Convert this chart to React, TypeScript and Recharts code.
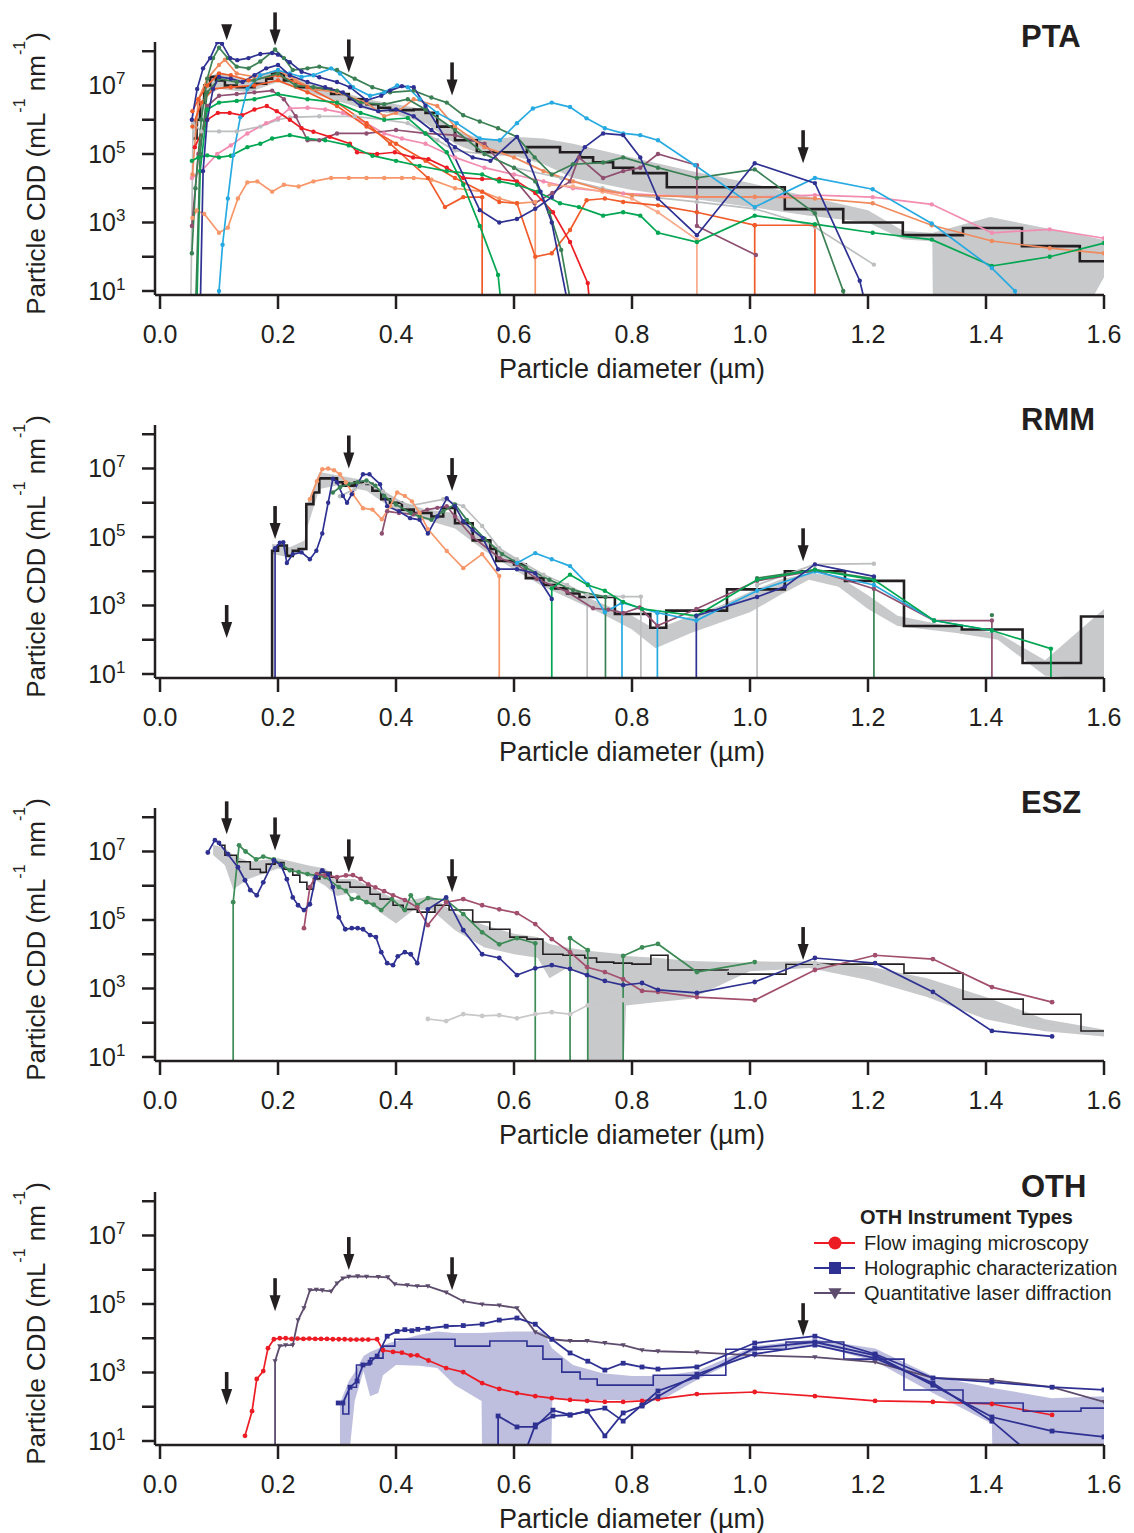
import React from 'react';
import { ComposedChart, Line, Area, XAxis, YAxis, ReferenceDot } from 'recharts';

type P = [number, number | null];
type B = [number, number, number];

const FONT = '"Liberation Sans", Arial, Helvetica, sans-serif';
const INK = '#231f20';
const NAVY = '#2e3192';
const DKGREEN = '#3b8054';
const SEAGREEN = '#3d8b57';
const GREEN = '#00a651';
const CYAN = '#27aae1';
const RED = '#ed1c24';
const ORANGE = '#f15a29';
const SALMON = '#f7976a';
const LSALMON = '#f9a98a';
const CORAL = '#f08a5d';
const PINK = '#f28cb1';
const MAUVE = '#8f4f70';
const ROSE = '#a24f6e';
const GRAY = '#bcbec0';
const BAND = '#c8c9cb';
const LAVENDER = '#b3b3d9';
const PURPLE = '#5d4c6d';

// axis ticks
const xTicks = [0, 0.2, 0.4, 0.6, 0.8, 1.0, 1.2, 1.4, 1.6];
const yTicks = [1e1, 1e2, 1e3, 1e4, 1e5, 1e6, 1e7, 1e8];
const yLabelled = [1, 3, 5, 7];
const Y_DOMAIN: [number, number] = [7.64, 1.86e8];
const X_DOMAIN: [number, number] = [-0.0085, 1.6];

// All series: [diameter (µm), log10 of CDD]
// ---------------- PTA ----------------
const ptaStep: P[] = [[0.055,5.45],[0.062,6.0],[0.068,6.5],[0.075,7.0],[0.085,7.25],[0.095,7.15],[0.11,7.0],[0.13,6.95],[0.16,7.05],[0.18,7.2],[0.19,7.35],[0.21,7.15],[0.23,6.95],[0.26,6.9],[0.29,6.75],[0.32,6.6],[0.35,6.45],[0.37,6.35],[0.39,6.28],[0.43,6.3],[0.45,6.2],[0.47,5.8],[0.5,5.4],[0.537,5.05],[0.622,5.2],[0.678,5.05],[0.712,4.9],[0.734,4.76],[0.768,4.6],[0.802,4.44],[0.859,4.03],[1.059,3.39],[1.158,3.0],[1.259,2.63],[1.361,2.84],[1.461,2.31],[1.559,1.87],[1.6,1.87]];
const ptaBand: B[] = [[0.055,5.3,5.6],[0.065,5.8,6.2],[0.08,6.7,7.2],[0.1,6.9,7.4],[0.15,6.8,7.15],[0.2,7.1,7.45],[0.25,6.8,7.1],[0.3,6.55,6.85],[0.35,6.3,6.6],[0.4,6.15,6.45],[0.45,5.9,6.3],[0.5,5.3,5.7],[0.55,4.95,5.4],[0.6,4.95,5.5],[0.65,4.7,5.45],[0.7,4.3,5.3],[0.8,3.95,4.9],[0.9,3.7,4.5],[1.0,3.45,4.15],[1.1,3.2,3.75],[1.2,3.0,3.36],[1.26,2.5,2.75],[1.309,2.45,2.7],[1.31,0.5,2.7],[1.407,0.5,3.16],[1.571,0.5,2.6],[1.6,1.4,2.49]];
const ptaNavy1: P[] = [[0.054,6.0],[0.063,6.9],[0.073,7.5],[0.085,7.8],[0.097,8.26],[0.105,8.22],[0.119,7.8],[0.131,7.74],[0.15,7.8],[0.17,7.92],[0.19,7.95],[0.2,7.9],[0.22,7.68],[0.24,7.4],[0.27,7.24],[0.3,7.1],[0.322,6.95],[0.35,6.57],[0.375,6.7],[0.39,6.85],[0.41,6.98],[0.43,6.95],[0.45,6.4],[0.486,5.4],[0.542,3.36],[0.575,3.0],[0.605,3.1],[0.636,3.4],[0.664,3.74],[0.72,5.2],[0.751,5.6],[0.785,5.55],[0.814,4.9],[0.844,3.7],[0.91,2.63],[1.008,4.73],[1.11,4.15],[1.186,1.3],[1.2,0.3]];
const ptaNavy2: P[] = [[0.068,0.3],[0.073,4.5],[0.08,6.0],[0.09,6.9],[0.1,7.25],[0.12,7.2],[0.14,7.1],[0.16,7.3],[0.18,7.5],[0.2,7.6],[0.22,7.3],[0.25,7.1],[0.28,6.95],[0.31,6.8],[0.34,6.4],[0.37,6.25],[0.4,6.3],[0.43,6.1],[0.46,5.7],[0.5,5.2],[0.53,4.9],[0.56,4.8],[0.605,5.5],[0.625,4.8],[0.645,3.9],[0.664,3.0],[0.695,0.3]];
const ptaDkGreen1: P[] = [[0.054,2.1],[0.06,4.0],[0.07,6.0],[0.08,7.2],[0.09,7.8],[0.1,8.1],[0.115,7.8],[0.13,7.55],[0.15,7.5],[0.17,7.7],[0.195,8.05],[0.21,7.8],[0.225,7.45],[0.25,7.5],[0.27,7.55],[0.3,7.45],[0.33,7.2],[0.36,6.95],[0.39,6.8],[0.43,6.85],[0.46,6.65],[0.486,6.5],[0.514,6.13],[0.542,5.95],[0.573,5.75],[0.605,5.5],[0.635,4.9],[0.664,4.4],[0.7,4.7],[0.751,4.75],[0.785,4.9],[0.844,4.6],[0.91,4.3],[1.008,4.55],[1.11,3.27],[1.158,1.0],[1.165,0.3]];
const ptaDkGreen2: P[] = [[0.06,0.3],[0.068,5.0],[0.08,6.8],[0.1,7.2],[0.13,7.1],[0.16,7.15],[0.2,7.35],[0.23,7.0],[0.26,6.95],[0.3,6.85],[0.34,6.5],[0.38,6.45],[0.42,6.6],[0.45,6.3],[0.5,5.7],[0.55,5.0],[0.6,4.6],[0.636,4.2],[0.66,3.3],[0.68,2.2],[0.7,0.3]];
const ptaGreenLow: P[] = [[0.054,4.8],[0.065,4.9],[0.08,4.96],[0.1,4.9],[0.12,4.95],[0.148,5.2],[0.17,5.3],[0.19,5.45],[0.22,5.55],[0.25,5.45],[0.28,5.4],[0.32,5.25],[0.36,4.95],[0.4,4.8],[0.44,4.65],[0.486,4.5],[0.546,4.4],[0.575,4.2],[0.605,4.1],[0.64,3.9],[0.678,3.56],[0.71,3.45],[0.751,3.2],[0.785,3.3],[0.814,3.2],[0.844,2.7],[0.91,2.43],[1.008,3.2],[1.11,2.95],[1.208,2.7],[1.308,2.5],[1.41,1.73],[1.508,2.0],[1.6,2.4]];
const ptaGreenHigh: P[] = [[0.062,0.3],[0.068,4.5],[0.08,6.3],[0.1,6.5],[0.13,6.55],[0.16,6.6],[0.2,6.75],[0.25,6.6],[0.3,6.5],[0.34,6.2],[0.38,6.0],[0.42,6.05],[0.45,5.6],[0.486,5.05],[0.514,4.1],[0.542,2.9],[0.573,1.47],[0.58,0.3]];
const ptaCyan: P[] = [[0.097,0.3],[0.1,1.0],[0.106,2.35],[0.115,3.7],[0.124,4.96],[0.136,6.07],[0.148,6.9],[0.17,7.3],[0.2,7.45],[0.22,7.35],[0.24,7.25],[0.26,7.3],[0.29,7.5],[0.305,7.35],[0.327,6.95],[0.356,6.7],[0.38,6.8],[0.402,7.0],[0.42,6.95],[0.44,6.6],[0.47,6.2],[0.503,5.9],[0.542,5.45],[0.576,5.4],[0.605,5.9],[0.632,6.33],[0.664,6.5],[0.695,6.37],[0.723,6.04],[0.754,5.75],[0.785,5.6],[0.814,5.55],[0.844,5.4],[0.907,4.67],[1.008,3.45],[1.11,4.3],[1.208,3.97],[1.308,2.97],[1.41,1.67],[1.449,1.0],[1.46,0.3]];
const ptaRed: P[] = [[0.059,5.2],[0.08,6.0],[0.098,6.2],[0.118,6.2],[0.139,6.13],[0.16,6.3],[0.181,6.4],[0.198,6.25],[0.22,6.0],[0.24,5.75],[0.26,5.65],[0.288,5.5],[0.322,5.3],[0.334,5.05],[0.368,5.0],[0.398,5.05],[0.429,4.9],[0.455,4.85],[0.486,4.6],[0.514,4.3],[0.546,4.27],[0.575,4.27],[0.605,4.2],[0.636,3.86],[0.666,3.3],[0.695,2.43],[0.725,1.23],[0.73,0.3]];
const ptaSalmonFlat: P[] = [[0.055,3.13],[0.062,3.35],[0.075,3.25],[0.1,2.7],[0.115,2.85],[0.132,3.7],[0.148,4.17],[0.165,4.2],[0.19,3.9],[0.21,4.1],[0.235,4.05],[0.26,4.2],[0.29,4.3],[0.32,4.3],[0.35,4.3],[0.38,4.3],[0.41,4.3],[0.43,4.3],[0.46,4.25],[0.5,4.0],[0.546,3.9],[0.575,3.7],[0.605,3.56],[0.636,3.6],[0.636,0.3]];
const ptaOrange1: P[] = [[0.055,6.25],[0.065,6.6],[0.08,7.0],[0.1,7.35],[0.12,7.3],[0.15,7.15],[0.2,7.3],[0.25,6.95],[0.3,6.5],[0.35,5.9],[0.39,5.3],[0.454,4.3],[0.483,3.45],[0.514,3.74],[0.546,3.74],[0.546,0.3]];
const ptaOrange2: P[] = [[0.055,5.8],[0.07,6.5],[0.09,6.9],[0.12,6.95],[0.16,7.0],[0.2,7.15],[0.25,6.8],[0.3,6.4],[0.35,5.8],[0.4,5.3],[0.45,4.8],[0.5,4.3],[0.546,3.9],[0.575,3.6],[0.605,3.56],[0.636,2.0],[0.664,2.1],[0.695,2.78],[0.723,3.65],[0.754,3.7],[0.785,3.6],[0.844,3.5],[0.91,3.3],[1.008,2.92],[1.008,0.3],[1.008,2.92],[1.11,2.92],[1.11,0.3]];
const ptaLightSalmon: P[] = [[0.66,4.1],[0.7,4.05],[0.75,3.9],[0.8,3.7],[0.844,3.3],[0.91,2.5],[0.91,0.3]];
const ptaCoral: P[] = [[0.055,4.4],[0.065,6.6],[0.08,7.2],[0.1,7.6],[0.11,7.75],[0.13,7.35],[0.16,7.25],[0.2,7.45],[0.23,7.15],[0.26,6.9],[0.3,6.8],[0.35,6.5],[0.38,6.1],[0.4,6.2],[0.43,6.6],[0.47,6.4],[0.5,5.8],[0.55,5.2],[0.6,4.9],[0.65,4.5],[0.7,4.2],[0.75,3.95],[0.8,3.8],[0.91,3.75],[1.008,3.75],[1.11,3.7],[1.208,3.56],[1.308,2.92],[1.41,2.46],[1.508,2.25],[1.6,2.1]];
const ptaPink: P[] = [[0.054,4.3],[0.07,4.5],[0.097,5.0],[0.12,5.25],[0.148,5.6],[0.18,5.9],[0.2,6.04],[0.22,6.33],[0.25,6.35],[0.28,6.3],[0.31,6.2],[0.35,5.9],[0.38,5.6],[0.41,5.45],[0.45,5.3],[0.5,4.9],[0.55,4.6],[0.6,4.4],[0.65,4.2],[0.7,4.0],[0.785,3.85],[0.91,3.74],[1.008,3.74],[1.11,3.8],[1.208,3.74],[1.308,3.53],[1.41,2.7],[1.508,2.8],[1.6,2.54]];
const ptaMauve: P[] = [[0.054,2.9],[0.065,5.0],[0.08,6.4],[0.1,6.7],[0.13,6.75],[0.16,6.8],[0.19,6.85],[0.21,6.6],[0.23,6.1],[0.25,5.4],[0.27,5.4],[0.3,5.6],[0.35,5.6],[0.4,5.7],[0.45,5.6],[0.5,5.55],[0.55,5.3],[0.635,3.56],[0.665,3.86],[0.695,4.2],[0.71,4.9],[0.751,4.3],[0.785,4.5],[0.814,4.6],[0.844,5.0],[0.91,4.67],[0.91,2.9],[1.01,2.05]];
const ptaGray: P[] = [[0.052,0.3],[0.056,5.9],[0.07,5.66],[0.1,5.66],[0.13,5.66],[0.17,5.8],[0.2,6.0],[0.22,6.07],[0.27,6.1],[0.33,6.1],[0.38,6.0],[0.42,5.9],[0.47,5.4],[0.5,5.1],[0.55,5.0],[0.6,4.6],[0.68,4.3],[0.75,4.0],[0.8,3.8],[0.91,3.6],[1.008,3.4],[1.11,2.87],[1.21,1.77]];
const ptaArrows: [number, number, boolean][] = [[0.113,8.32,true],[0.195,8.17,false],[0.32,7.38,false],[0.495,6.71,false],[1.09,4.73,false]];

// ---------------- RMM ----------------
const rmmStep: P[] = [[0.19,0.3],[0.19,4.6],[0.2,4.75],[0.215,4.45],[0.225,4.6],[0.235,4.65],[0.248,5.96],[0.26,6.3],[0.27,6.71],[0.3,6.6],[0.31,6.5],[0.33,6.6],[0.35,6.55],[0.36,6.35],[0.375,6.1],[0.39,6.0],[0.41,5.8],[0.43,5.7],[0.46,5.6],[0.48,5.85],[0.5,5.4],[0.53,4.9],[0.56,4.65],[0.57,4.3],[0.6,4.2],[0.62,3.8],[0.65,3.6],[0.67,3.5],[0.69,3.35],[0.711,3.25],[0.771,2.75],[0.831,2.35],[0.858,2.85],[0.961,3.47],[1.059,4.0],[1.161,3.72],[1.261,2.4],[1.359,2.3],[1.462,1.32],[1.561,2.68],[1.6,2.68]];
const rmmBand: B[] = [[0.19,4.5,4.8],[0.22,4.4,4.7],[0.245,4.6,4.9],[0.25,5.3,6.0],[0.27,6.4,6.9],[0.3,6.5,6.8],[0.35,6.35,6.65],[0.4,5.75,6.1],[0.45,5.5,5.8],[0.5,5.25,5.7],[0.55,4.6,4.95],[0.6,4.05,4.4],[0.65,3.55,3.85],[0.7,3.15,3.4],[0.75,2.75,3.05],[0.8,2.3,2.7],[0.84,1.75,2.3],[0.9,2.2,2.7],[0.95,2.5,3.0],[1.0,2.8,3.4],[1.05,3.3,3.75],[1.1,3.75,3.95],[1.15,3.55,3.85],[1.2,2.9,3.3],[1.25,2.4,2.7],[1.35,2.2,2.35],[1.42,2.0,2.2],[1.5,0.95,1.4],[1.6,0.85,2.9]];
const rmmNavy: P[] = [[0.195,0.3],[0.195,4.67],[0.203,4.83],[0.209,4.85],[0.215,4.24],[0.225,4.5],[0.24,4.55],[0.254,4.35],[0.265,4.6],[0.275,5.1],[0.285,6.0],[0.293,6.7],[0.3,6.6],[0.31,6.2],[0.317,6.0],[0.325,6.25],[0.344,6.83],[0.355,6.83],[0.373,6.54],[0.385,5.9],[0.405,5.75],[0.424,5.55],[0.44,5.5],[0.454,5.1],[0.47,5.6],[0.486,6.13],[0.5,5.9],[0.514,5.46],[0.53,5.2],[0.547,4.97],[0.573,4.06],[0.605,4.06],[0.636,3.94],[0.664,3.19],[0.8,null],[0.909,0.3],[0.909,2.7],[1.012,3.25],[1.059,3.55],[1.11,4.2],[1.21,3.85]];
const rmmSalmon: P[] = [[0.254,6.1],[0.266,6.63],[0.275,6.98],[0.285,7.0],[0.295,6.95],[0.305,6.83],[0.315,6.6],[0.327,6.25],[0.344,5.84],[0.36,5.8],[0.376,5.52],[0.39,5.9],[0.402,6.3],[0.415,6.2],[0.427,6.04],[0.44,5.7],[0.454,5.23],[0.486,4.59],[0.514,4.09],[0.546,4.5],[0.575,3.86],[0.575,0.3]];
const rmmDkGreen: P[] = [[0.293,6.3],[0.305,6.45],[0.32,6.55],[0.335,6.6],[0.35,6.65],[0.365,6.5],[0.38,6.2],[0.4,5.95],[0.425,5.7],[0.44,5.6],[0.46,5.5],[0.48,5.75],[0.5,5.95],[0.52,5.5],[0.55,4.95],[0.58,4.5],[0.62,4.1],[0.66,3.75],[0.7,3.45],[0.755,3.25],[0.755,0.3],[0.9,null],[1.012,3.8],[1.11,4.05],[1.21,3.78],[1.21,0.3],[1.3,null],[1.41,2.72]];
const rmmGreen: P[] = [[0.664,0.3],[0.664,3.5],[0.695,3.9],[0.725,3.6],[0.754,3.43],[0.785,3.1],[0.817,2.9],[0.909,2.7],[1.012,3.75],[1.11,4.04],[1.21,3.75],[1.312,2.56],[1.41,2.27],[1.51,1.74],[1.51,0.3]];
const rmmCyan: P[] = [[0.605,4.24],[0.636,4.53],[0.664,4.35],[0.695,4.15],[0.725,3.62],[0.754,2.8],[0.783,3.08],[0.783,0.3],[0.783,3.08],[0.843,2.79],[0.843,0.3],[0.843,2.79],[0.909,2.56],[1.012,3.43],[1.11,3.99],[1.21,3.6],[1.312,2.56],[1.41,2.27]];
const rmmMauve: P[] = [[0.376,5.1],[0.385,5.75],[0.405,5.7],[0.429,5.66],[0.453,5.8],[0.47,5.85],[0.486,5.9],[0.5,5.6],[0.53,5.0],[0.576,4.38],[0.605,4.2],[0.639,3.77],[0.69,3.4],[0.734,2.92],[0.76,2.88],[0.785,2.78],[0.813,2.94],[0.843,2.41],[0.909,2.9],[1.012,3.72],[1.11,4.02],[1.21,3.49],[1.312,2.56],[1.41,2.56],[1.41,0.3]];
const rmmGray: P[] = [[0.305,6.19],[0.33,6.4],[0.35,6.6],[0.378,6.33],[0.42,5.9],[0.48,6.1],[0.514,5.9],[0.546,5.32],[0.575,4.67],[0.605,4.35],[0.65,3.9],[0.69,3.6],[0.724,3.3],[0.724,0.3],[0.724,3.3],[0.785,3.26],[0.815,3.26],[0.815,0.3],[0.9,null],[1.012,0.3],[1.012,3.6],[1.11,4.2],[1.21,4.22]];
const rmmArrows: [number, number, boolean][] = [[0.113,2.05,false],[0.195,4.94,false],[0.32,7.0,false],[0.495,6.34,false],[1.09,4.29,false]];

// ---------------- ESZ ----------------
const eszStep: P[] = [[0.1,7.18],[0.11,6.89],[0.13,6.7],[0.153,6.48],[0.17,6.39],[0.18,6.63],[0.195,6.68],[0.21,6.48],[0.225,6.31],[0.237,6.1],[0.249,5.9],[0.26,6.2],[0.271,6.39],[0.29,6.25],[0.3,6.1],[0.322,5.96],[0.356,5.75],[0.373,5.61],[0.395,5.43],[0.412,5.31],[0.436,5.23],[0.466,5.43],[0.49,5.29],[0.53,4.94],[0.559,4.73],[0.593,4.5],[0.622,4.44],[0.649,4.0],[0.683,3.97],[0.72,3.89],[0.74,3.77],[0.769,3.74],[0.8,3.71],[0.832,3.97],[0.861,3.54],[0.963,3.42],[1.061,3.71],[1.261,3.45],[1.361,2.69],[1.463,2.25],[1.561,1.76],[1.6,1.76]];
const eszBand: B[] = [[0.09,6.9,7.2],[0.11,6.6,7.1],[0.124,5.9,6.9],[0.15,6.2,6.7],[0.2,6.5,6.8],[0.25,6.3,6.6],[0.28,6.0,6.5],[0.3,5.7,6.2],[0.33,5.8,6.2],[0.375,5.2,5.8],[0.4,4.9,5.6],[0.43,5.3,5.6],[0.46,5.3,5.7],[0.5,4.7,5.2],[0.55,4.2,4.85],[0.6,4.0,4.6],[0.64,3.9,4.5],[0.66,3.3,4.3],[0.69,3.6,4.2],[0.724,3.4,4.1],[0.725,0.5,4.1],[0.785,0.5,4.0],[0.79,2.5,3.95],[0.84,2.6,3.9],[0.9,2.7,3.8],[1.0,3.5,3.75],[1.1,3.6,3.8],[1.2,3.25,3.65],[1.3,2.75,3.3],[1.4,2.1,2.75],[1.5,1.75,2.1],[1.6,1.6,1.8]];
const eszNavy: P[] = [[0.081,6.97],[0.093,7.33],[0.1,7.25],[0.115,6.92],[0.132,6.54],[0.144,6.16],[0.153,5.87],[0.164,5.72],[0.175,6.1],[0.193,6.74],[0.205,6.6],[0.215,6.19],[0.225,5.66],[0.234,5.43],[0.244,5.29],[0.254,5.46],[0.264,6.25],[0.275,6.45],[0.285,6.34],[0.293,5.96],[0.303,5.08],[0.314,4.73],[0.325,4.76],[0.335,4.76],[0.344,4.73],[0.356,4.56],[0.366,4.5],[0.375,4.06],[0.385,3.74],[0.395,3.68],[0.403,3.94],[0.415,4.06],[0.425,4.0],[0.436,3.74],[0.454,5.31],[0.485,5.66],[0.514,4.7],[0.546,4.0],[0.575,3.89],[0.605,3.39],[0.636,3.59],[0.664,3.68],[0.695,3.57],[0.724,3.39],[0.754,3.22],[0.785,3.1],[0.817,3.16],[0.844,2.96],[0.91,2.87],[1.008,3.19],[1.11,3.89],[1.212,3.74],[1.31,2.9],[1.41,1.76],[1.512,1.6]];
const eszGreen: P[] = [[0.124,0.3],[0.124,5.52],[0.134,7.18],[0.145,7.0],[0.163,6.77],[0.175,6.85],[0.193,6.77],[0.207,6.6],[0.22,6.45],[0.235,6.4],[0.25,6.34],[0.265,6.3],[0.28,6.25],[0.303,5.96],[0.315,5.85],[0.325,5.61],[0.336,5.65],[0.35,5.52],[0.362,5.45],[0.375,5.29],[0.393,5.61],[0.415,5.29],[0.425,5.72],[0.436,5.43],[0.454,5.64],[0.485,5.58],[0.514,5.17],[0.546,4.64],[0.575,4.29],[0.605,4.47],[0.636,4.32],[0.636,0.3],[0.66,null],[0.695,0.3],[0.695,4.47],[0.725,4.12],[0.725,0.3],[0.75,null],[0.785,0.3],[0.785,3.95],[0.817,4.2],[0.844,4.3],[0.91,3.48],[1.008,3.77]];
const eszRose: P[] = [[0.244,4.76],[0.254,5.96],[0.266,6.34],[0.28,6.3],[0.3,6.25],[0.315,6.3],[0.327,6.31],[0.34,6.2],[0.353,6.04],[0.365,5.95],[0.38,5.84],[0.395,5.72],[0.415,5.58],[0.436,5.37],[0.454,4.85],[0.485,5.52],[0.514,5.61],[0.546,5.43],[0.575,5.31],[0.605,5.2],[0.636,4.88],[0.664,4.44],[0.695,4.06],[0.724,3.62],[0.754,3.48],[0.785,3.27],[0.817,2.93],[0.844,2.9],[0.91,2.75],[1.008,2.66],[1.11,3.54],[1.212,3.97],[1.31,3.86],[1.41,3.04],[1.512,2.6]];
const eszGray: P[] = [[0.454,2.11],[0.485,2.05],[0.514,2.25],[0.546,2.2],[0.575,2.22],[0.605,2.13],[0.636,2.25],[0.664,2.31],[0.695,2.25],[0.725,2.51],[0.785,2.66],[0.844,2.87],[0.91,3.19],[1.008,3.77],[1.11,3.74],[1.212,3.45],[1.31,2.9],[1.41,2.3],[1.512,1.95]];
const eszArrows: [number, number, boolean][] = [[0.113,7.5,false],[0.195,7.03,false],[0.32,6.39,false],[0.495,5.81,false],[1.09,3.83,false]];

// ---------------- OTH ----------------
const othFlow: P[] = [[0.144,1.15],[0.156,1.87],[0.164,2.81],[0.175,3.04],[0.183,3.71],[0.193,3.97],[0.203,4.0],[0.213,4.0],[0.223,3.98],[0.233,3.99],[0.243,3.98],[0.253,3.99],[0.263,3.98],[0.273,3.98],[0.283,3.98],[0.293,3.97],[0.303,3.97],[0.313,3.97],[0.323,3.96],[0.333,3.96],[0.343,3.96],[0.353,3.96],[0.368,3.97],[0.378,3.65],[0.395,3.6],[0.41,3.58],[0.425,3.5],[0.436,3.5],[0.455,3.35],[0.485,3.13],[0.514,3.01],[0.546,2.69],[0.575,2.52],[0.605,2.4],[0.636,2.31],[0.664,2.25],[0.695,2.2],[0.724,2.17],[0.754,2.14],[0.785,2.14],[0.817,2.17],[0.844,2.22],[0.91,2.37],[1.008,2.43],[1.11,2.31],[1.212,2.17],[1.31,2.14],[1.41,2.08],[1.512,1.76]];
const othLaser: P[] = [[0.195,0.3],[0.195,3.33],[0.203,3.77],[0.213,3.8],[0.225,3.8],[0.234,4.53],[0.244,4.88],[0.254,5.4],[0.265,5.42],[0.275,5.4],[0.29,5.37],[0.3,5.6],[0.31,5.75],[0.32,5.8],[0.335,5.81],[0.35,5.8],[0.37,5.79],[0.386,5.78],[0.398,5.58],[0.419,5.55],[0.436,5.52],[0.454,5.52],[0.485,5.34],[0.514,5.08],[0.546,4.99],[0.575,4.96],[0.605,4.88],[0.636,4.18],[0.664,3.97],[0.695,3.92],[0.724,3.92],[0.754,3.86],[0.785,3.8],[0.817,3.65],[0.844,3.62],[0.91,3.59],[1.008,3.5],[1.11,3.45],[1.212,3.3],[1.31,2.84],[1.41,2.78],[1.512,2.57],[1.6,2.14]];
const othHolo1: P[] = [[0.302,2.11],[0.31,2.11],[0.322,2.57],[0.334,2.75],[0.344,3.22],[0.356,3.3],[0.368,3.48],[0.385,4.06],[0.402,4.2],[0.415,4.25],[0.427,4.22],[0.437,4.26],[0.454,4.29],[0.485,4.35],[0.514,4.37],[0.546,4.41],[0.575,4.53],[0.605,4.59],[0.636,4.41],[0.664,3.97],[0.695,3.57],[0.725,3.33],[0.754,3.07],[0.785,3.27],[0.817,3.16],[0.844,3.1],[0.91,3.16],[1.008,3.86],[1.11,4.06],[1.212,3.54],[1.31,2.84],[1.41,2.72],[1.512,2.57],[1.6,2.49]];
const othHoloStep: P[] = [[0.302,2.11],[0.31,1.79],[0.32,2.57],[0.333,3.22],[0.356,3.42],[0.378,3.77],[0.398,3.97],[0.5,3.77],[0.559,3.92],[0.622,3.77],[0.649,3.39],[0.681,3.01],[0.712,2.81],[0.741,2.63],[0.836,2.92],[0.959,3.68],[1.061,3.89],[1.159,3.39],[1.261,2.49],[1.361,2.11],[1.463,1.87],[1.561,1.96],[1.6,1.96]];
const othHolo2: P[] = [[0.573,0.3],[0.573,1.73],[0.605,1.41],[0.636,1.41],[0.666,1.9],[0.695,1.76],[0.724,1.87],[0.754,1.96],[0.785,1.58],[0.817,2.05],[0.844,2.46],[0.91,2.87],[1.008,3.71],[1.11,3.89],[1.212,3.5],[1.31,2.63],[1.41,1.7],[1.512,1.29],[1.6,1.12]];
const othHolo3: P[] = [[0.615,0.5],[0.636,1.47],[0.666,1.73],[0.695,1.76],[0.724,1.87],[0.754,1.15],[0.785,1.82],[0.817,2.02],[0.844,2.3],[0.91,2.95],[1.008,3.54],[1.11,3.8],[1.212,3.42],[1.31,2.69],[1.41,1.58],[1.47,0.7]];
const othBand: B[] = [[0.305,0.5,2.1],[0.32,0.5,2.75],[0.33,2.17,3.0],[0.345,3.04,3.48],[0.356,2.31,3.6],[0.37,2.4,3.7],[0.378,2.92,3.8],[0.4,3.22,3.92],[0.44,3.2,4.1],[0.47,3.13,4.2],[0.5,2.63,4.15],[0.545,2.17,4.15],[0.546,0.5,4.15],[0.6,0.5,4.2],[0.65,0.5,4.2],[0.663,0.5,3.75],[0.665,2.25,3.7],[0.7,2.2,3.22],[0.75,2.2,2.98],[0.8,2.2,2.9],[0.85,2.2,2.9],[0.91,2.78,3.04],[1.008,3.62,3.77],[1.11,3.8,3.97],[1.212,3.33,3.7],[1.31,2.4,2.9],[1.41,1.5,2.55],[1.411,0.5,2.55],[1.512,0.5,2.25],[1.6,0.5,2.31]];
const othArrows: [number, number, boolean][] = [[0.113,2.05,false],[0.195,4.79,false],[0.32,5.99,false],[0.495,5.4,false],[1.09,4.06,false]];
const othLegendTitle = 'OTH Instrument Types';
const othLegendLabels = ['Flow imaging microscopy', 'Holographic characterization', 'Quantitative laser diffraction'];

// ---------------- helpers ----------------
type Shape = 'circle' | 'square' | 'tri' | 'none';
interface S { pts: P[]; color: string; width?: number; shape?: Shape; size?: number; step?: boolean; }

const toRows = (pts: P[]) => pts.map(([x, e]) => ({ x, y: e === null ? null : Math.pow(10, e) }));
const toBand = (pts: B[]) => pts.map(([x, lo, hi]) => ({ x, r: [Math.pow(10, lo), Math.pow(10, hi)] }));

const markerEl = (shape: Shape, cx: number, cy: number, size: number, color: string, key?: string) => {
  if (shape === 'square') return <rect key={key} x={cx - size} y={cy - size} width={size * 2} height={size * 2} fill={color} />;
  if (shape === 'tri') return <path key={key} d={`M${cx - size * 1.1},${cy - size * 0.8} L${cx + size * 1.1},${cy - size * 0.8} L${cx},${cy + size * 1.1} Z`} fill={color} />;
  return <circle key={key} cx={cx} cy={cy} r={size} fill={color} />;
};

const makeDot = (shape: Shape, color: string, size: number) => (props: any) => {
  const { cx, cy, index } = props;
  const k = `dot-${index}`;
  if (cx == null || cy == null || Number.isNaN(cx) || Number.isNaN(cy)) return <g key={k} />;
  return markerEl(shape, cx, cy, size, color, k);
};

const arrowShape = (headOnly: boolean) => (p: any) => {
  const { cx, cy } = p;
  if (cx == null || cy == null) return <g />;
  return (
    <g>
      {!headOnly && <rect x={cx - 1.8} y={cy - 33} width={3.6} height={19} fill={INK} />}
      <path d={`M${cx - 5.5},${cy - 16} L${cx + 5.5},${cy - 16} L${cx},${cy} Z`} fill={INK} />
    </g>
  );
};

const YTick = (props: any) => {
  const { x, y, payload } = props;
  const exp = Math.round(Math.log10(payload.value));
  if (!yLabelled.includes(exp)) return <g />;
  return (
    <g>
      <text x={x - 26} y={y + 9} textAnchor="end" fontFamily={FONT} fontSize={25} fill={INK}>10</text>
      <text x={x - 26} y={y - 1} textAnchor="start" fontFamily={FONT} fontSize={17} fill={INK}>{exp}</text>
    </g>
  );
};

const XTick = (props: any) => {
  const { x, y, payload } = props;
  return (
    <text x={x} y={y + 34} textAnchor="middle" fontFamily={FONT} fontSize={25} fill={INK}>
      {Number(payload.value).toFixed(1)}
    </text>
  );
};

const XLabel = (props: any) => {
  const vb = props && props.viewBox ? props.viewBox : {};
  const y = (typeof vb.y === 'number' ? vb.y : 295) + 83;
  return (
    <text x={632} y={y} textAnchor="middle" fontFamily={FONT} fontSize={27} fill={INK}>
      Particle diameter (µm)
    </text>
  );
};

const YLabel = (props: any) => {
  const vb = props && props.viewBox ? props.viewBox : {};
  const top = typeof vb.y === 'number' ? vb.y : 42;
  const h = typeof vb.height === 'number' ? vb.height : 253;
  const cy = top + h / 2 + 5;
  const x = 45;
  return (
    <text transform={`rotate(-90, ${x}, ${cy})`} x={x} y={cy} textAnchor="middle" fontFamily={FONT} fontSize={26} fill={INK}>
      Particle CDD (mL<tspan fontSize={16} dy={-20}>-1</tspan><tspan dy={20}> nm</tspan><tspan fontSize={16} dy={-20}>-1</tspan><tspan dy={20}>)</tspan>
    </text>
  );
};

const renderSeries = (s: S, i: number, prefix: string) => (
  <Line
    key={`${prefix}-${i}`}
    data={toRows(s.pts)}
    dataKey="y"
    type={s.step ? 'stepAfter' : 'linear'}
    stroke={s.color}
    strokeWidth={s.width ?? 1.7}
    dot={s.shape === 'none' ? false : makeDot(s.shape ?? 'circle', s.color, s.size ?? 2.2)}
    activeDot={false}
    connectNulls={false}
    isAnimationActive={false}
    legendType="none"
  />
);

interface PanelProps {
  top: number;
  title: string;
  id: string;
  band: B[];
  bandColor: string;
  bandOpacity?: number;
  under?: S[];
  series: S[];
  arrows: [number, number, boolean][];
  legend?: React.ReactNode;
}

function Panel({ top, title, id, band, bandColor, bandOpacity = 1, under = [], series, arrows, legend }: PanelProps) {
  return (
    <div style={{ position: 'absolute', left: 0, top, width: 1134, height: 390 }}>
      <ComposedChart width={1134} height={390} margin={{ top: 42, right: 30, bottom: 0, left: 0 }}>
        <XAxis
          type="number"
          dataKey="x"
          domain={X_DOMAIN}
          allowDataOverflow
          ticks={xTicks}
          interval={0}
          height={95}
          tickSize={14}
          tickMargin={0}
          tick={<XTick />}
          tickLine={{ stroke: INK, strokeWidth: 2.5 }}
          axisLine={{ stroke: INK, strokeWidth: 2.5 }}
          label={XLabel}
        />
        <YAxis
          type="number"
          scale="log"
          domain={Y_DOMAIN}
          allowDataOverflow
          ticks={yTicks}
          interval={0}
          width={155}
          tickSize={13}
          tickMargin={0}
          tick={<YTick />}
          tickLine={{ stroke: INK, strokeWidth: 2.5 }}
          axisLine={{ stroke: INK, strokeWidth: 2.5 }}
          label={YLabel}
        />
        {under.map((s, i) => renderSeries(s, i, `${id}-u`))}
        <Area
          data={toBand(band)}
          dataKey="r"
          type="linear"
          stroke="none"
          fill={bandColor}
          fillOpacity={bandOpacity}
          dot={false}
          activeDot={false}
          isAnimationActive={false}
          legendType="none"
        />
        {series.map((s, i) => renderSeries(s, i, id))}
        {arrows.map(([d, e, headOnly], i) => (
          <ReferenceDot key={`${id}-a${i}`} x={d} y={Math.pow(10, e)} r={0} ifOverflow="visible" shape={arrowShape(headOnly)} />
        ))}
      </ComposedChart>
      <svg width={1134} height={390} style={{ position: 'absolute', left: 0, top: 0, pointerEvents: 'none' }}>
        <text x={1021} y={47} fontFamily={FONT} fontWeight="bold" fontSize={31} fill={INK}>{title}</text>
        {legend}
      </svg>
    </div>
  );
}

const ptaSeries: S[] = [
  { pts: ptaStep, color: INK, width: 2.6, shape: 'none', step: true },
  { pts: ptaGray, color: GRAY },
  { pts: ptaPink, color: PINK },
  { pts: ptaMauve, color: MAUVE },
  { pts: ptaSalmonFlat, color: SALMON },
  { pts: ptaLightSalmon, color: LSALMON },
  { pts: ptaCoral, color: CORAL },
  { pts: ptaOrange1, color: ORANGE },
  { pts: ptaOrange2, color: ORANGE },
  { pts: ptaRed, color: RED },
  { pts: ptaGreenLow, color: GREEN },
  { pts: ptaGreenHigh, color: GREEN },
  { pts: ptaDkGreen2, color: DKGREEN },
  { pts: ptaDkGreen1, color: DKGREEN },
  { pts: ptaCyan, color: CYAN },
  { pts: ptaNavy2, color: NAVY },
  { pts: ptaNavy1, color: NAVY },
];

const rmmSeries: S[] = [
  { pts: rmmStep, color: INK, width: 2.6, shape: 'none', step: true },
  { pts: rmmGray, color: GRAY },
  { pts: rmmMauve, color: MAUVE },
  { pts: rmmDkGreen, color: DKGREEN },
  { pts: rmmCyan, color: CYAN },
  { pts: rmmGreen, color: GREEN },
  { pts: rmmSalmon, color: SALMON },
  { pts: rmmNavy, color: NAVY },
];

const eszSeries: S[] = [
  { pts: eszStep, color: INK, width: 1.6, shape: 'none', step: true },
  { pts: eszGray, color: '#c8c8c8', size: 2.4 },
  { pts: eszGreen, color: SEAGREEN, size: 2.4 },
  { pts: eszRose, color: ROSE, size: 2.4 },
  { pts: eszNavy, color: NAVY, size: 2.4 },
];

const othUnder: S[] = [{ pts: othFlow, color: RED, size: 2.4 }];
const othSeries: S[] = [
  { pts: othHoloStep, color: NAVY, width: 1.6, shape: 'none', step: true },
  { pts: othLaser, color: PURPLE, width: 1.8, shape: 'tri', size: 2.4 },
  { pts: othHolo2, color: NAVY, width: 1.8, shape: 'square', size: 2.4 },
  { pts: othHolo3, color: NAVY, width: 1.8, shape: 'square', size: 2.4 },
  { pts: othHolo1, color: NAVY, width: 1.8, shape: 'square', size: 2.4 },
];

const othLegendColors = [RED, NAVY, PURPLE];
const othLegendShapes: Shape[] = ['circle', 'square', 'tri'];

const OthLegend = () => (
  <g>
    <text x={860} y={74} fontFamily={FONT} fontWeight="bold" fontSize={20} fill={INK}>{othLegendTitle}</text>
    {othLegendLabels.map((label, i) => {
      const cy = 93 + i * 25;
      return (
        <g key={label}>
          <line x1={814} x2={855} y1={cy} y2={cy} stroke={othLegendColors[i]} strokeWidth={1.8} />
          {markerEl(othLegendShapes[i], 835, cy, othLegendShapes[i] === 'circle' ? 6.5 : 6, othLegendColors[i])}
          <text x={864} y={cy + 7} fontFamily={FONT} fontSize={20} fill={INK}>{label}</text>
        </g>
      );
    })}
  </g>
);

export default function App() {
  return (
    <div style={{ position: 'absolute', left: 0, top: 0, width: 1134, height: 1533, background: '#ffffff', overflow: 'hidden' }}>
      <Panel top={0} id="pta" title="PTA" band={ptaBand} bandColor={BAND} series={ptaSeries} arrows={ptaArrows} />
      <Panel top={383} id="rmm" title="RMM" band={rmmBand} bandColor={BAND} series={rmmSeries} arrows={rmmArrows} />
      <Panel top={766} id="esz" title="ESZ" band={eszBand} bandColor={BAND} series={eszSeries} arrows={eszArrows} />
      <Panel top={1150} id="oth" title="OTH" band={othBand} bandColor={LAVENDER} bandOpacity={0.85} under={othUnder} series={othSeries} arrows={othArrows} legend={<OthLegend />} />
    </div>
  );
}
